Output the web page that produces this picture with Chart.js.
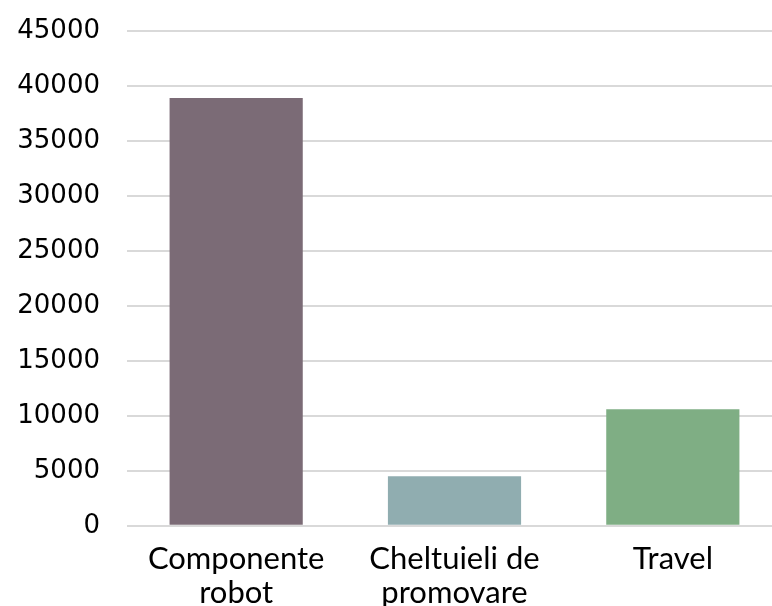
<!DOCTYPE html>
<html>
<head>
<meta charset="utf-8">
<script src="https://cdn.jsdelivr.net/npm/chart.js@4/dist/chart.umd.min.js"></script>
<style>
  html, body { margin: 0; padding: 0; background: #fff; overflow: hidden; }
  #wrap { width: 772px; height: 606px; overflow: hidden; }
  #costChart { display: block; }
</style>
</head>
<body>
<div id="wrap"><canvas id="costChart" width="782" height="606"></canvas></div>
<script>
const categories = [["Componente", "robot"], ["Cheltuieli de", "promovare"], "Travel"];
const costValues = [38900, 4500, 10600];
const barColors = ["#7b6b76", "#90adb0", "#7fae84"];

const ctx = document.getElementById("costChart").getContext("2d");
new Chart(ctx, {
  type: "bar",
  data: {
    labels: categories,
    datasets: [{
      data: costValues,
      backgroundColor: barColors,
      barPercentage: 0.61,
      categoryPercentage: 1
    }]
  },
  options: {
    responsive: false,
    animation: false,
    layout: { padding: { top: 31, right: 0, left: 0, bottom: -12 } },
    plugins: {
      legend: { display: false },
      tooltip: { enabled: false }
    },
    scales: {
      x: {
        grid: { display: false },
        border: { display: false },
        ticks: {
          color: "#000",
          font: { family: "Lato", size: 31, lineHeight: 1.1 },
          padding: 8,
          maxRotation: 0
        }
      },
      y: {
        min: 0,
        max: 45000,
        afterFit: (axis) => {
          axis.width = 127;
          axis.paddingTop = 0;
          axis.paddingBottom = 0;
        },
        ticks: {
          stepSize: 5000,
          color: "#000",
          font: { family: "DejaVu Sans", size: 26 },
          padding: 27,
          callback: (v) => String(v)
        },
        grid: { color: "#d9d9d9", lineWidth: 2, drawTicks: false },
        border: { display: false }
      }
    }
  }
});
</script>
</body>
</html>
